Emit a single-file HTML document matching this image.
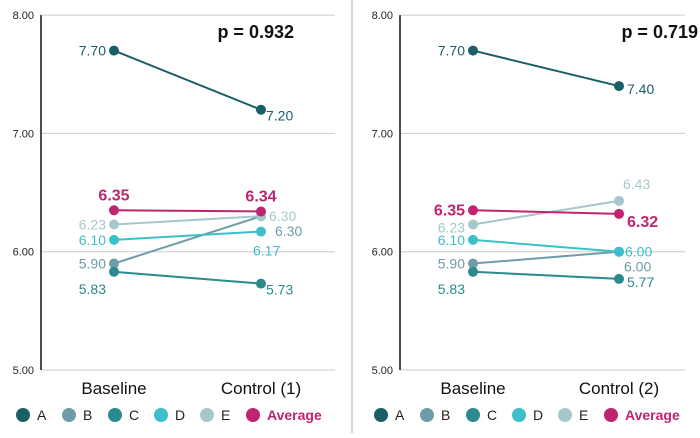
<!DOCTYPE html>
<html><head><meta charset="utf-8"><style>
body{margin:0;background:#fff;width:700px;height:433px;overflow:hidden}
svg{font-family:"Liberation Sans",Arial,sans-serif}
</style></head><body>
<svg id="c" width="700" height="433">
<line x1="352" y1="0" x2="352" y2="433" stroke="#aaa" stroke-width="1"/>
</svg>
<script>
const seriesNames = ["A","B","C","D","E","Average"];
const seriesColors = ["#1a5f66","#6e9ca8","#2a8a8e","#3cbfc8","#a6c8cc","#c0246e"];
const yTicks = [5,6,7,8];
const categories1 = ["Baseline","Control (1)"];
const categories2 = ["Baseline","Control (2)"];
const baseline1 = [7.70,5.90,5.83,6.10,6.23,6.35];
const control1 = [7.20,6.30,5.73,6.17,6.30,6.34];
const baseline2 = [7.70,5.90,5.83,6.10,6.23,6.35];
const control2 = [7.40,6.00,5.77,6.00,6.43,6.32];
const pValue1 = "p = 0.932";
const pValue2 = "p = 0.719";

// label placement [dx, dy, anchor] per series: baseline, control
const lab1 = {b:[[-8,5,"end"],[-8,5,"end"],[-8,22,"end"],[-8,5,"end"],[-8,5,"end"],[0,-10,"middle"]],
              c:[[5,11,"start"],[14,20,"start"],[5,11,"start"],[-8,24,"start"],[8,5,"start"],[0,-10,"middle"]]};
const lab2 = {b:[[-8,5,"end"],[-8,5,"end"],[-8,22,"end"],[-8,5,"end"],[-8,8,"end"],[-8,5,"end"]],
              c:[[8,8,"start"],[5,20,"start"],[8,8,"start"],[6,5,"start"],[4,-12,"start"],[8,13,"start"]]};

const svg=document.getElementById('c');
const NS="http://www.w3.org/2000/svg";
function mk(t,a,txt){const e=document.createElementNS(NS,t);for(const k in a)e.setAttribute(k,a[k]);if(txt!=null)e.textContent=txt;svg.appendChild(e);return e;}

function panel(ox,axisX,right,xb,xc,cats,base,ctrl,lab,pv,pvX,name){
  const y=v=>370-(v-5)*118.3;
  yTicks.forEach(t=>{
    const l=mk('line',{x1:axisX,x2:right,y1:y(t),y2:y(t),stroke:'#cccccc','stroke-width':1});
    
    
    const tx=mk('text',{x:axisX-7,y:y(t)+4,'text-anchor':'end','font-size':11,fill:'#222'},t.toFixed(2));
    
    
  });
  const ax=mk('line',{x1:axisX,x2:axisX,y1:y(8),y2:y(5),stroke:'#111','stroke-width':1.5});
  
  
  [xb,xc].forEach((x,i)=>{
    const t=mk('text',{x:x,y:394,'text-anchor':'middle','font-size':17,fill:'#111'},cats[i]);
    
    
  });
  seriesNames.forEach((s,i)=>{
    const col=seriesColors[i];
    const ln=mk('line',{x1:xb,y1:y(base[i]),x2:xc,y2:y(ctrl[i]),stroke:col,'stroke-width':2});
    
    
    [[xb,base[i],lab.b[i]],[xc,ctrl[i],lab.c[i]]].forEach(([x,v,o])=>{
      const c=mk('circle',{cx:x,cy:y(v),r:5,fill:col});
      
      
      const t=mk('text',{x:x+o[0],y:y(v)+o[1],'text-anchor':o[2],'font-size':i==5?16:14,'font-weight':i==5?'bold':'normal',fill:col},v.toFixed(2));
      
      
    });
  });
  const p=mk('text',{x:pvX,y:38,'text-anchor':'end','font-size':18,'font-weight':'bold',fill:'#111'},pv);
  
  
  let lx=ox;
  const gaps=[46,46,46,46,46,0];
  seriesNames.forEach((s,i)=>{
    const c=mk('circle',{cx:lx+7,cy:415,r:7,fill:seriesColors[i]});
    
    
    const t=mk('text',{x:lx+21,y:420,'font-size':14,fill:i==5?seriesColors[5]:'#222','font-weight':i==5?'bold':'normal'},s);
    
    
    lx+=gaps[i];
  });
}
panel(16,41,335,114,261,categories1,baseline1,control1,lab1,pValue1,294,'left');
panel(374,400,685,473,619,categories2,baseline2,control2,lab2,pValue2,698,'right');
</script>
</body></html>
